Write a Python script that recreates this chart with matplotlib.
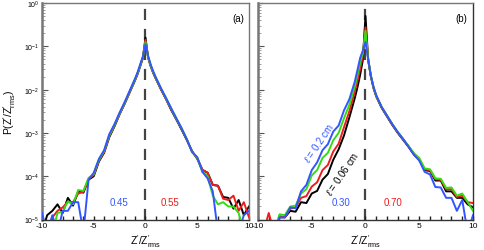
import numpy as np
import matplotlib
matplotlib.use("Agg")
import matplotlib.pyplot as plt
from matplotlib.ticker import LogLocator, NullFormatter

plt.rcParams['font.family'] = ['Liberation Sans', 'DejaVu Sans']
plt.rcParams['mathtext.fontset'] = 'custom'
plt.rcParams['mathtext.rm'] = 'Liberation Sans'
plt.rcParams['mathtext.it'] = 'Liberation Sans:italic'

x = [-10, -9.5, -9, -8.5, -8, -7.5, -7, -6.5, -6, -5.5, -5, -4.5, -4, -3.5, -3, -2.5, -2, -1.5, -1,
     -0.75, -0.5, -0.25, 0, 0.25, 0.5, 0.75,
     1, 1.5, 2, 2.5, 3, 3.5, 4, 4.5, 5, 5.5, 6, 6.5, 7, 7.5, 8, 8.5, 9, 9.5, 10]

# log10 of P, panel (a)
a_black = [-5.3, -4.9, -4.8, -4.65, -4.85, -4.5, -4.68, -4.35, -4.38, -4.08, -4.0, -3.66, -3.46, -3.1, -2.85, -2.57, -2.32, -2.05, -1.78,
           -1.63, -1.45, -1.27, -0.8, -1.26, -1.46, -1.62,
           -1.75, -2.0, -2.23, -2.48, -2.7, -2.93, -3.17, -3.42, -3.6, -3.86, -3.92, -4.2, -4.22, -4.48, -4.5, -4.75, -4.55, -4.9, -4.7]
a_red = [-5.3, -5.3, -4.95, -4.8, -4.72, -4.6, -4.6, -4.4, -4.36, -4.06, -3.97, -3.64, -3.44, -3.08, -2.84, -2.56, -2.31, -2.04, -1.77,
         -1.62, -1.44, -1.26, -0.85, -1.25, -1.45, -1.61,
         -1.74, -1.99, -2.22, -2.46, -2.69, -2.92, -3.16, -3.44, -3.58, -3.85, -3.92, -4.2, -4.22, -4.52, -4.55, -4.45, -4.8, -4.6, -4.95]
a_green = [-5.3, -5.3, -5.3, -4.85, -4.82, -4.58, -4.65, -4.32, -4.34, -4.04, -3.95, -3.62, -3.42, -3.06, -2.82, -2.55, -2.3, -2.03, -1.76,
           -1.61, -1.43, -1.25, -0.9, -1.24, -1.44, -1.6,
           -1.73, -1.98, -2.21, -2.45, -2.68, -2.9, -3.15, -3.44, -3.58, -3.9, -4.0, -4.45, -4.65, -4.6, -4.7, -4.7, -4.85, -5.3, -5.3]
a_blue = [-4.85, -5.3, -4.9, -5.3, -4.8, -4.8, -4.6, -4.6, -5.3, -4.08, -3.92, -3.6, -3.4, -3.03, -2.8, -2.53, -2.28, -2.01, -1.74,
          -1.59, -1.41, -1.23, -0.95, -1.22, -1.42, -1.58,
          -1.72, -1.97, -2.2, -2.44, -2.67, -2.9, -3.15, -3.44, -3.56, -3.9, -4.05, -4.35, -5.3, -5.3, -5.3, -5.3, -5.3, -4.9, -4.8]

# log10 of P, panel (b)
b_black = [-5.3, -5.3, -5.3, -5.3, -4.95, -4.95, -4.8, -4.82, -4.6, -4.62, -4.4, -4.34, -4.08, -3.95, -3.62, -3.38, -3.06, -2.64, -2.2,
           -1.95, -1.66, -1.32, -0.3, -1.32, -1.7, -1.97,
           -2.16, -2.42, -2.62, -2.82, -3.0, -3.16, -3.32, -3.5, -3.62, -3.86, -3.88, -4.1, -4.1, -4.35, -4.35, -4.5, -4.5, -4.65, -4.72]
b_red = [-5.3, -5.3, -4.85, -5.3, -4.92, -4.95, -4.75, -4.72, -4.5, -4.46, -4.24, -4.14, -3.86, -3.74, -3.43, -3.25, -2.87, -2.5, -2.05,
         -1.8, -1.52, -1.22, -0.56, -1.31, -1.69, -1.96,
         -2.15, -2.41, -2.61, -2.81, -2.99, -3.15, -3.31, -3.48, -3.6, -3.84, -3.86, -4.07, -4.08, -4.3, -4.3, -4.48, -4.45, -4.6, -4.62]
b_green = [-5.3, -5.3, -5.3, -5.3, -4.88, -4.9, -4.7, -4.68, -4.4, -4.3, -3.98, -3.86, -3.58, -3.46, -3.17, -3.0, -2.66, -2.35, -1.92,
           -1.66, -1.38, -1.15, -0.64, -1.3, -1.68, -1.95,
           -2.14, -2.4, -2.6, -2.8, -2.98, -3.14, -3.3, -3.47, -3.58, -3.82, -3.84, -4.05, -4.06, -4.27, -4.26, -4.45, -4.4, -4.6, -4.8]
b_blue = [-5.3, -5.3, -5.3, -5.3, -4.95, -4.95, -4.72, -4.74, -4.35, -4.2, -3.86, -3.68, -3.4, -3.26, -2.97, -2.83, -2.48, -2.22, -1.82,
          -1.55, -1.27, -1.1, -0.9, -1.3, -1.68, -1.94,
          -2.13, -2.4, -2.6, -2.8, -2.98, -3.14, -3.32, -3.5, -3.64, -3.9, -3.96, -4.25, -4.26, -4.5, -4.5, -4.8, -4.55, -5.3, -4.9]

colors = ['#000000', '#ee1c1c', '#33dd11', '#3355ff']
ytick_vals = [1e-5, 1e-4, 1e-3, 1e-2, 1e-1, 1e0]
ytick_labels = [r'$10^{-5}$', r'$10^{-4}$', r'$10^{-3}$', r'$10^{-2}$', r'$10^{-1}$', r'$10^{0}$']

W, H = 485, 251
fig = plt.figure(figsize=(W / 100, H / 100), dpi=100)
ax_a = fig.add_axes([42 / W, 1 - 220.5 / H, 207 / W, 216.5 / H])
ax_b = fig.add_axes([258 / W, 1 - 220.5 / H, 215 / W, 216.5 / H])

spine_col = '#777777'

def style(ax, show_ylabels):
    ax.set_yscale('log')
    ax.set_xlim(-10, 10)
    ax.set_ylim(1e-5, 1)
    ax.axvline(0, color='#444444', lw=1.6, dashes=(5, 4), zorder=1)
    ax.set_xticks(list(range(-10, 11)))
    ax.set_xticklabels([str(v) if v % 5 == 0 else '' for v in range(-10, 11)])
    ax.tick_params(axis='x', direction='in', length=3, width=1, pad=2, labelsize=6, color='#222222')
    ax.set_yticks(ytick_vals)
    ax.yaxis.set_minor_locator(LogLocator(base=10, subs=np.arange(2, 10), numticks=20))
    ax.yaxis.set_minor_formatter(NullFormatter())
    if show_ylabels:
        ax.set_yticklabels(ytick_labels)
    else:
        ax.set_yticklabels([])
    ax.tick_params(axis='y', which='major', direction='in', length=4, width=0.8, pad=2, labelsize=5, color='#555555')
    ax.tick_params(axis='y', which='minor', direction='in', length=2.5, width=0.5, color='#777777')
    for s in ax.spines.values():
        s.set_color(spine_col)
        s.set_linewidth(1.0)
    ax.spines['left'].set_linewidth(1.8)
    ax.spines['bottom'].set_color('#333333')
    ax.set_xlabel(r"$\mathrm{Z}^{\prime}/\mathrm{Z}^{\prime}_{\mathrm{rms}}$", fontsize=7.5, labelpad=2)

xa = np.array(x)
for vals, c, z in zip([a_black, a_red, a_green, a_blue], colors, [2, 3, 4, 5]):
    ax_a.plot(xa, 10 ** np.array(vals), color=c, lw=1.4, zorder=z)
for vals, c, z in zip([b_black, b_red, b_green, b_blue], colors, [2, 3, 4, 5]):
    ax_b.plot(xa, 10 ** np.array(vals), color=c, lw=1.4, zorder=z)

style(ax_a, True)
style(ax_b, False)
ax_b.spines['right'].set_color('#333333')

ax_a.set_ylabel(r"$\mathrm{P(Z}^{\prime}/\mathrm{Z}^{\prime}_{\mathrm{rms}})$", fontsize=7.5, labelpad=4)

ax_a.text(0.975, 0.93, '(a)', transform=ax_a.transAxes, ha='right', va='center', fontsize=7)
ax_b.text(0.975, 0.93, '(b)', transform=ax_b.transAxes, ha='right', va='center', fontsize=7)

ax_a.text(-2.6, 10 ** -4.6, '0.45', color='#3355ff', ha='center', va='center', fontsize=7)
ax_a.text(2.4, 10 ** -4.6, '0.55', color='#ee1c1c', ha='center', va='center', fontsize=7)
ax_b.text(-2.25, 10 ** -4.6, '0.30', color='#3355ff', ha='center', va='center', fontsize=7)
ax_b.text(2.6, 10 ** -4.6, '0.70', color='#ee1c1c', ha='center', va='center', fontsize=7)

ax_b.text(-4.35, 10 ** -3.2, r'$\ell$ = 0.2 cm', color='#3355ff', rotation=56,
          ha='center', va='center', fontsize=7, rotation_mode='anchor')
ax_b.text(-2.15, 10 ** -3.92, r'$\ell$ = 0.06 cm', color='#000000', rotation=56,
          ha='center', va='center', fontsize=7, rotation_mode='anchor')

fig.savefig('out.png', dpi=100)
